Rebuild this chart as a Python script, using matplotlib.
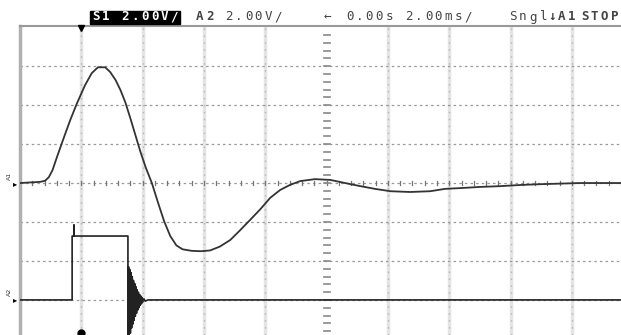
"""
Oscilloscope capture: channel A1 response to a drive pulse on A2.
"""
import numpy as np
import matplotlib.pyplot as plt
from matplotlib.patches import Rectangle

W, H = 621, 335

# channel A1 (x in divisions, y in divisions)
a1_x = [0.00, 0.33, 0.41, 0.47, 0.53, 0.61, 0.70, 0.82, 0.93, 1.06, 1.17, 1.27,
        1.39, 1.47, 1.56, 1.64, 1.72, 1.80, 1.88, 1.96, 2.05, 2.15, 2.25, 2.35,
        2.45, 2.55, 2.65, 2.80, 2.95, 3.10, 3.26, 3.43, 3.59, 3.75, 3.92, 4.08,
        4.24, 4.40, 4.57, 4.81, 5.06, 5.30, 5.55, 5.79, 6.04, 6.36, 6.69, 6.93,
        7.18, 7.50, 7.83, 8.16, 8.48, 9.14, 9.80]
a1_y = [0.00, 0.03, 0.06, 0.15, 0.33, 0.70, 1.10, 1.62, 2.05, 2.51, 2.82, 2.97,
        2.97, 2.85, 2.64, 2.38, 2.06, 1.66, 1.24, 0.82, 0.40, 0.00, -0.50, -0.98,
        -1.36, -1.60, -1.70, -1.74, -1.75, -1.73, -1.63, -1.46, -1.21, -0.95, -0.67, -0.38,
        -0.18, -0.05, 0.05, 0.10, 0.08, 0.00, -0.08, -0.15, -0.21, -0.23, -0.21, -0.15,
        -0.13, -0.10, -0.08, -0.05, -0.03, 0.00, 0.00]

# channel A2: pulse then ringing after the falling edge
a2_x = [0.00, 0.85, 0.85, 0.88, 0.88, 0.88, 1.76, 1.76,
        1.77, 1.78, 1.79, 1.80, 1.81, 1.82, 1.83, 1.84, 1.85, 1.86, 1.87, 1.88,
        1.89, 1.90, 1.91, 1.92, 1.93, 1.94, 1.95, 1.96, 1.97, 1.98, 1.99, 2.00,
        2.02, 2.04, 2.09, 9.80]
a2_y = [-3.00, -3.00, -1.36, -1.36, -1.08, -1.36, -1.36, -4.20,
        -2.15, -3.95, -2.22, -3.85, -2.30, -3.72, -2.40, -3.62, -2.50, -3.52, -2.58, -3.42,
        -2.66, -3.34, -2.74, -3.26, -2.80, -3.20, -2.86, -3.14, -2.90, -3.10, -2.94, -3.06,
        -2.97, -3.03, -3.00, -3.00]

header = [("S1 2.00V/", 91, True, True), ("A2", 195, True, False), ("2.00V/", 224, False, False),
          ("\u2190", 322, False, False), ("0.00s", 345, False, False), ("2.00ms/", 404, False, False),
          ("Sngl", 508, False, False), ("\u2193A1", 547, True, False), ("STOP", 580, True, False)]

fig = plt.figure(figsize=(W / 100, H / 100), dpi=100)
ax = fig.add_axes([20 / W, 0, (W - 20) / W, (H - 26) / H])
ax.set_xlim(0, 9.80)
ax.set_ylim(-3.9, 4.03)
ax.set_xticks([])
ax.set_yticks([])
for s in ['right', 'bottom']:
    ax.spines[s].set_visible(False)
ax.spines['left'].set_color('#b0b0b0')
ax.spines['left'].set_linewidth(2.5)
ax.spines['top'].set_color('#999999')
ax.spines['top'].set_linewidth(1.5)

# graticule
for gx in range(1, 10):
    if gx != 5:
        ax.axvline(gx, color='#e4e4e4', lw=2.5, zorder=0)
        ax.axvline(gx, color='#b5b5b5', lw=1.0, ls=(0, (1, 4)), zorder=0)
for gy in [-3, -2, -1, 1, 2, 3]:
    ax.axhline(gy, color='#999999', lw=0.9, ls=(0, (2, 2.5)), zorder=0)

# centre axes with minor ticks
ax.axhline(0, color='#999999', lw=0.9, ls=(0, (2, 2.5)), zorder=0)
for t in np.arange(0.2, 9.8, 0.2):
    ax.plot([t, t], [-0.05, 0.05], color='#777777', lw=0.9, zorder=1)
for t in np.arange(-3.8, 4.0, 0.2):
    ax.plot([4.95, 5.05], [t, t], color='#888888', lw=1.2, zorder=1)

ax.plot(a1_x, a1_y, color='#333333', lw=1.3, zorder=3)
ax.plot(a2_x, a2_y, color='#222222', lw=1.2, zorder=3)

# trigger markers
ax.plot(1, 3.97, marker='v', color='black', ms=5, clip_on=False, zorder=4)
ax.plot(1, -3.85, marker='o', color='black', ms=5, zorder=4)


def px(x):
    return x / W


def py(y):
    return 1 - y / H


def mono(s, x0, y, bold, color='black', pitch=9.8):
    for i, ch in enumerate(s):
        fig.text(px(x0 + i * pitch + pitch / 2), py(y), ch, ha='center', va='center',
                 fontsize=9, family='DejaVu Sans Mono', color=color,
                 weight='bold' if bold else 'normal')


for txt, x0, bold, inverse in header:
    if inverse:
        fig.patches.append(Rectangle((px(x0 - 1), py(24)), px(len(txt) * 9.8 + 2), 13 / H,
                                     transform=fig.transFigure, color='black'))
        mono(txt, x0, 17, bold, color='white')
    else:
        mono(txt, x0, 17, bold, color='#444444')

# channel labels on the left edge
fig.text(px(9), py(176), "A1", fontsize=4.5, ha='center', va='center', rotation=90, color='#333333')
fig.text(px(9), py(292), "A2", fontsize=4.5, ha='center', va='center', rotation=90, color='#333333')
fig.text(px(15), py(184), "\u25b8", fontsize=6, ha='center', va='center', color='black')
fig.text(px(15), py(300), "\u25b8", fontsize=6, ha='center', va='center', color='black')

plt.savefig('out.png', dpi=100)
